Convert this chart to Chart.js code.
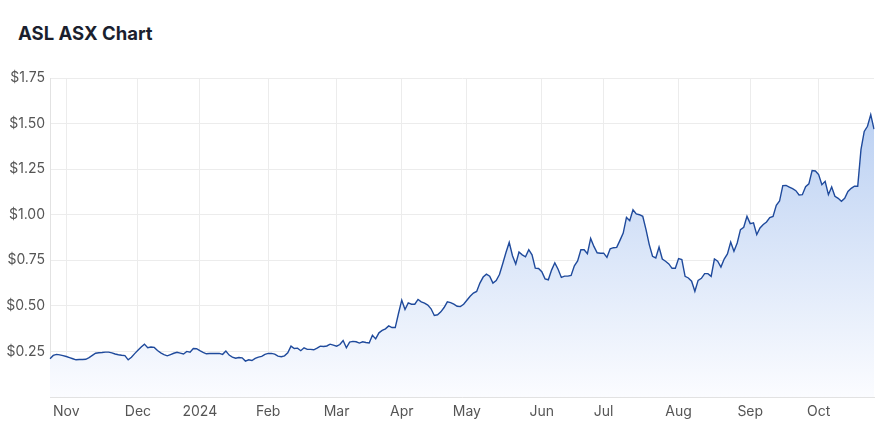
<!DOCTYPE html>
<html>
<head>
<meta charset="utf-8">
<title>ASL ASX Chart</title>
<script src="https://cdn.jsdelivr.net/npm/chart.js@4.4.1/dist/chart.umd.min.js"></script>
<style>
  body { margin: 0; background: #fff; }
  #wrap { position: relative; width: 880px; height: 425px; }
  h1 {
    position: absolute; left: 18px; top: 22px; margin: 0;
    font: 700 18.5px Inter, "Open Sans", sans-serif; line-height: 22px;
    color: #1b1f2e;
  }
  canvas { position: absolute; left: 0; top: 0; }
</style>
</head>
<body>
<div id="wrap">
  <h1>ASL ASX Chart</h1>
  <canvas id="myChart" width="880" height="425"></canvas>
</div>
<script>
// Month tick labels and how many trading days each month has on the chart
const monthTicks = ['', 'Nov', 'Dec', '2024', 'Feb', 'Mar', 'Apr', 'May', 'Jun', 'Jul', 'Aug', 'Sep', 'Oct'];
const monthDays = [5, 22, 19, 21, 21, 20, 20, 23, 19, 23, 22, 21, 18];

// Closing price (AUD), one value per trading day
const priceValues = [
  0.21, 0.228, 0.234, 0.231, 0.227, 0.222, 0.216, 0.21, 0.204, 0.206,
  0.206, 0.207, 0.216, 0.228, 0.24, 0.243, 0.244, 0.246, 0.246, 0.242,
  0.236, 0.232, 0.229, 0.227, 0.204, 0.218, 0.238, 0.256, 0.274, 0.29,
  0.27, 0.274, 0.272, 0.255, 0.242, 0.233, 0.226, 0.233, 0.24, 0.245,
  0.241, 0.236, 0.25, 0.246,
  0.266, 0.265, 0.254, 0.245, 0.237, 0.239, 0.239, 0.239, 0.239, 0.234,
  0.252, 0.23, 0.219, 0.213, 0.217, 0.215, 0.197, 0.204, 0.2, 0.212,
  0.219, 0.223, 0.234, 0.239, 0.239, 0.235, 0.224, 0.221, 0.226, 0.243,
  0.279, 0.266, 0.268, 0.254, 0.27, 0.261, 0.261, 0.259, 0.268, 0.279,
  0.277,
  0.28, 0.29, 0.285, 0.279, 0.288, 0.31, 0.27, 0.301, 0.305, 0.303,
  0.296, 0.303, 0.299, 0.296, 0.339, 0.319, 0.352, 0.365, 0.374, 0.39,
  0.381, 0.381, 0.458, 0.531, 0.48, 0.516, 0.509, 0.509, 0.535, 0.522,
  0.515, 0.504, 0.484, 0.447, 0.451, 0.467, 0.491, 0.522, 0.518, 0.509,
  0.498, 0.496, 0.509, 0.531, 0.553,
  0.57, 0.579, 0.625, 0.658, 0.674, 0.663, 0.625, 0.639, 0.672, 0.731,
  0.793, 0.848, 0.775, 0.729, 0.795, 0.78, 0.769, 0.808, 0.78, 0.707,
  0.705, 0.687, 0.648, 0.643, 0.696, 0.736, 0.701, 0.656, 0.663, 0.663,
  0.667, 0.72, 0.747, 0.808, 0.808, 0.786, 0.87, 0.826, 0.791, 0.789,
  0.789, 0.766, 0.813, 0.819, 0.821, 0.859, 0.899, 0.985, 0.967, 1.027,
  1.004, 1.0, 0.991,
  0.918, 0.836, 0.772, 0.763, 0.823, 0.757, 0.745, 0.73, 0.706, 0.706,
  0.759, 0.754, 0.662, 0.653, 0.635, 0.58, 0.64, 0.651, 0.677, 0.677,
  0.662, 0.757, 0.745, 0.713, 0.757, 0.785, 0.85, 0.799, 0.845, 0.918,
  0.931, 0.991, 0.951, 0.955, 0.891, 0.927, 0.946, 0.96, 0.984, 0.991,
  1.052, 1.075, 1.16, 1.161, 1.152, 1.143, 1.132, 1.108, 1.11, 1.154,
  1.169, 1.242, 1.24, 1.22, 1.165, 1.183, 1.11, 1.152, 1.101, 1.09,
  1.074, 1.09, 1.128, 1.145, 1.156, 1.156, 1.357, 1.457, 1.485, 1.549,
  1.47
];

// one label per trading day, month name only on the first day of the month
let dayLabels = [];
monthDays.forEach((days, m) => {
  for (let d = 0; d < days; d++) {
    dayLabels.push(d === 0 ? monthTicks[m] : '');
  }
});

const tickFont = { family: 'Inter', size: 14 };
const gridColor = '#ececec';

function areaGradient(context) {
  const chart = context.chart;
  const area = chart.chartArea;
  if (!area) return null;
  const g = chart.ctx.createLinearGradient(0, area.top, 0, area.bottom);
  g.addColorStop(0, '#b3cbf1');
  g.addColorStop(1, '#fbfcff');
  return g;
}

let ctx = document.getElementById('myChart').getContext('2d');
window.chartInstance = new Chart(ctx, {
  type: 'line',
  data: {
    labels: dayLabels,
    datasets: [{
      label: 'ASL',
      data: priceValues,
      borderColor: '#1f4a9c',
      borderWidth: 1.4,
      backgroundColor: areaGradient,
      fill: 'origin',
      pointRadius: 0,
      tension: 0
    }]
  },
  options: {
    responsive: false,
    animation: false,
    layout: { padding: { top: 78, right: 6, left: 0, bottom: 0 } },
    plugins: {
      legend: { display: false },
      tooltip: { enabled: false }
    },
    scales: {
      x: {
        grid: { color: gridColor, drawTicks: false },
        border: { color: '#e2e2e2' },
        ticks: {
          autoSkip: false,
          maxRotation: 0,
          padding: 6,
          color: '#555',
          font: tickFont,
          callback: function (value, index) {
            return dayLabels[index] ? dayLabels[index] : null;
          }
        },
        afterFit: function (scale) { scale.height = 28; }
      },
      y: {
        min: 0,
        max: 1.75,
        grid: { color: gridColor, drawTicks: false },
        border: { color: '#e2e2e2' },
        ticks: {
          stepSize: 0.25,
          padding: 5,
          color: '#555',
          font: tickFont,
          callback: function (value) {
            return value === 0 ? '' : '$' + value.toFixed(2);
          }
        },
        afterFit: function (scale) { scale.width = 50; }
      }
    }
  }
});
</script>
</body>
</html>
